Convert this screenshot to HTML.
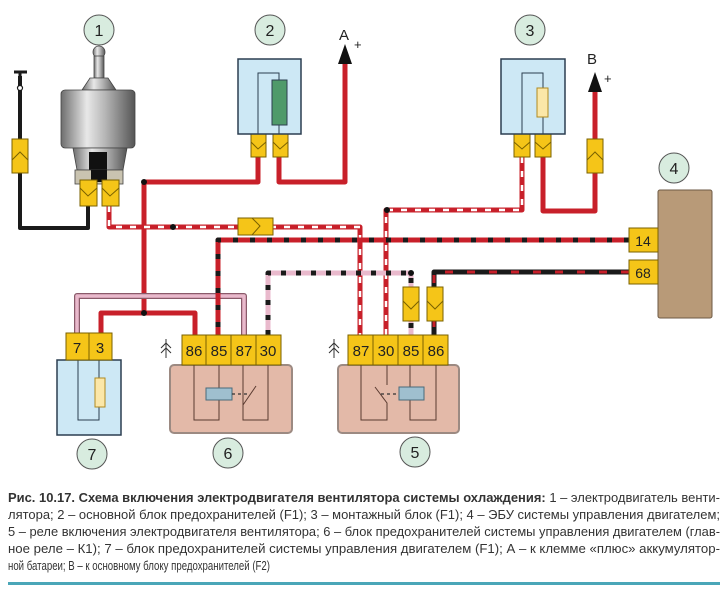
<!DOCTYPE html>
<html><head><meta charset="utf-8"><style>
html,body{margin:0;padding:0;background:#fff;width:726px;height:590px;overflow:hidden}
svg{display:block}
.t{font-family:"Liberation Sans",sans-serif;fill:#222}
.c{font-family:"Liberation Sans Narrow","Liberation Sans","DejaVu Sans",sans-serif;fill:#333;font-size:13px}
</style></head><body>
<svg width="726" height="590" viewBox="0 0 726 590" xmlns="http://www.w3.org/2000/svg">
<defs>
<linearGradient id="mg" x1="0" x2="1" y1="0" y2="0">
<stop offset="0" stop-color="#6e6e6e"/><stop offset="0.35" stop-color="#e8e8e8"/><stop offset="0.6" stop-color="#b5b5b5"/><stop offset="1" stop-color="#555"/>
</linearGradient>
</defs>
<g fill="none" stroke-linejoin="round">
<path d="M20 76 V228 H88 V206" stroke="#1a1a1a" stroke-width="4"/>
<path d="M258 157 V182 H144 V313" stroke="#c8202a" stroke-width="5"/>
<path d="M279 157 V182 H345 V62" stroke="#c8202a" stroke-width="5"/>
<path d="M101 333 V313 H195 V335" stroke="#c8202a" stroke-width="5"/>
<path d="M543 157 V211 H595 V90" stroke="#c8202a" stroke-width="5"/>
<path d="M77 333 V296 H244 V335" stroke="#8a5a6a" stroke-width="6"/>
<path d="M77 333 V296 H244 V335" stroke="#e9b9cc" stroke-width="3.5"/>
<path d="M109 206 V227 H360 V335" stroke="#c8202a" stroke-width="5"/>
<path d="M109 206 V227 H360 V335" stroke="#fff" stroke-width="2.5" stroke-dasharray="6 8"/>
<path d="M522 157 V210 H386 V335" stroke="#c8202a" stroke-width="5"/>
<path d="M522 157 V210 H386 V335" stroke="#fff" stroke-width="2.5" stroke-dasharray="6 8"/>
<path d="M629 240 H218 V335" stroke="#c8202a" stroke-width="5"/>
<path d="M629 240 H218 V335" stroke="#1a1a1a" stroke-width="5" stroke-dasharray="5 12"/>
<path d="M629 272 H434 V335" stroke="#1a1a1a" stroke-width="5"/>
<path d="M629 272 H434 V335" stroke="#c8202a" stroke-width="3" stroke-dasharray="8 14"/>
<path d="M268 335 V273 H411 V335" stroke="#e9b9cc" stroke-width="5"/>
<path d="M268 335 V273 H411 V335" stroke="#1a1a1a" stroke-width="5" stroke-dasharray="5 10"/>
</g>
<g fill="#111"><circle cx="144" cy="182" r="3"/><circle cx="173" cy="227" r="3"/><circle cx="144" cy="313" r="3"/><circle cx="387" cy="210" r="3"/><circle cx="411" cy="273" r="3"/></g>
<path d="M14 72 H27 M20 72 V88" stroke="#1a1a1a" stroke-width="3"/>
<circle cx="20" cy="88" r="2.5" fill="#fff" stroke="#1a1a1a" stroke-width="1.2"/>
<polygon points="338,64 352,64 345,44" fill="#111"/>
<polygon points="588,92 602,92 595,72" fill="#111"/>
<text class="t" x="339" y="40" font-size="15">A</text><text class="t" x="354" y="49" font-size="13">+</text>
<text class="t" x="587" y="64" font-size="15">B</text><text class="t" x="604" y="83" font-size="13">+</text>
<g fill="#f5c518" stroke="#7a6100" stroke-width="1">
<rect x="12" y="139" width="16" height="34"/><rect x="587" y="139" width="16" height="34"/>
<rect x="238" y="218" width="35" height="17"/>
<rect x="403" y="287" width="16" height="34"/><rect x="427" y="287" width="16" height="34"/>
</g>
<g fill="none" stroke="#7a6100" stroke-width="1">
<path d="M12 160 L20 152 L28 160"/><path d="M587 160 L595 152 L603 160"/>
<path d="M252 218 L260 226 L252 235"/>
<path d="M403 301 L411 309 L419 301"/><path d="M427 301 L435 309 L443 301"/>
</g>
<circle cx="99" cy="52" r="6" fill="url(#mg)" stroke="#444" stroke-width="0.8"/>
<rect x="94" y="56" width="10" height="22" fill="url(#mg)" stroke="#444" stroke-width="0.8"/>
<polygon points="90,78 108,78 116,90 82,90" fill="url(#mg)" stroke="#444" stroke-width="0.8"/>
<rect x="61" y="90" width="74" height="58" rx="4" fill="url(#mg)" stroke="#444" stroke-width="0.8"/>
<polygon points="73,148 127,148 123,170 77,170" fill="url(#mg)" stroke="#444" stroke-width="0.8"/>
<rect x="89" y="152" width="18" height="18" fill="#111"/>
<rect x="75" y="170" width="48" height="14" fill="#c9c3b0" stroke="#444" stroke-width="0.8"/>
<rect x="91" y="170" width="16" height="12" fill="#111"/>
<g fill="#f5c518" stroke="#7a6100" stroke-width="1">
<rect x="80" y="180" width="17" height="26"/><rect x="102" y="180" width="17" height="26"/>
<rect x="251" y="134" width="15" height="23"/><rect x="273" y="134" width="15" height="23"/>
<rect x="514" y="134" width="16" height="23"/><rect x="535" y="134" width="16" height="23"/>
</g>
<g fill="none" stroke="#7a6100" stroke-width="1">
<path d="M80 188 L88 196 L97 188"/><path d="M102 188 L110 196 L119 188"/>
<path d="M251 142 L258 149 L266 142"/><path d="M273 142 L280 149 L288 142"/>
<path d="M514 142 L522 149 L530 142"/><path d="M535 142 L543 149 L551 142"/>
</g>
<rect x="238" y="59" width="63" height="75" fill="#cde8f5" stroke="#2c3e50" stroke-width="1.5"/>
<path d="M258 134 V73 H279 V80" fill="none" stroke="#2c3e50" stroke-width="1"/>
<rect x="272" y="80" width="15" height="45" fill="#4f9a6a" stroke="#2c3e50" stroke-width="1"/>
<line x1="279" y1="125" x2="279" y2="134" stroke="#2c3e50"/>
<rect x="501" y="59" width="64" height="75" fill="#cde8f5" stroke="#2c3e50" stroke-width="1.5"/>
<path d="M522 134 V73 H543 V134" fill="none" stroke="#2c3e50" stroke-width="1"/>
<rect x="537" y="88" width="11" height="29" fill="#fbe7a8" stroke="#b08a20" stroke-width="1"/>
<rect x="658" y="190" width="54" height="128" rx="2" fill="#b89a78" stroke="#6e5a44" stroke-width="1"/>
<rect x="629" y="228" width="29" height="24" fill="#f5c518" stroke="#7a6100"/>
<rect x="629" y="260" width="29" height="24" fill="#f5c518" stroke="#7a6100"/>
<text class="t" x="643" y="246" font-size="14" text-anchor="middle">14</text>
<text class="t" x="643" y="278" font-size="14" text-anchor="middle">68</text>
<rect x="57" y="360" width="64" height="75" fill="#cde8f5" stroke="#2c3e50" stroke-width="1.5"/>
<path d="M78 360 V420 H99 V360" fill="none" stroke="#2c3e50" stroke-width="1"/>
<rect x="95" y="378" width="10" height="29" fill="#fbe7a8" stroke="#b08a20"/>
<rect x="66" y="333" width="23" height="27" fill="#f5c518" stroke="#7a6100"/>
<rect x="89" y="333" width="23" height="27" fill="#f5c518" stroke="#7a6100"/>
<text class="t" x="77" y="353" font-size="15" text-anchor="middle">7</text>
<text class="t" x="100" y="353" font-size="15" text-anchor="middle">3</text>
<rect x="170" y="365" width="122" height="68" rx="4" fill="#e3b9a8" stroke="#9c8a82" stroke-width="2"/>
<rect x="338" y="365" width="121" height="68" rx="4" fill="#e3b9a8" stroke="#9c8a82" stroke-width="2"/>
<g fill="#f5c518" stroke="#7a6100">
<rect x="182" y="335" width="24" height="30"/><rect x="206" y="335" width="25" height="30"/><rect x="231" y="335" width="25" height="30"/><rect x="256" y="335" width="25" height="30"/>
<rect x="348" y="335" width="25" height="30"/><rect x="373" y="335" width="25" height="30"/><rect x="398" y="335" width="25" height="30"/><rect x="423" y="335" width="25" height="30"/>
</g>
<g class="t" font-size="15" text-anchor="middle">
<text x="194" y="356">86</text><text x="219" y="356">85</text><text x="244" y="356">87</text><text x="268" y="356">30</text>
<text x="361" y="356">87</text><text x="386" y="356">30</text><text x="411" y="356">85</text><text x="436" y="356">86</text>
</g>
<g fill="none" stroke="#5a3a30" stroke-width="1">
<path d="M194 365 V420 H219 V365"/>
<path d="M243 365 V420 H268 V365"/>
<path d="M243 405 L256 386"/>
<path d="M361 365 V420 H387 V403 L375 387 M387 365 V385"/>
<path d="M410 365 V420 H436 V365"/>
</g>
<rect x="206" y="388" width="26" height="12" fill="#9fbfcf" stroke="#4a6a7a"/>
<rect x="399" y="387" width="25" height="13" fill="#9fbfcf" stroke="#4a6a7a"/>
<path d="M232 394 H250 M381 394 H399" stroke="#333" stroke-width="1.3" stroke-dasharray="3 3"/>
<g fill="none" stroke="#333" stroke-width="1">
<path d="M166 339 V358 M161 348 L166 343 L171 348 M161 353 L166 348 L171 353"/>
<path d="M334 339 V358 M329 348 L334 343 L339 348 M329 353 L334 348 L339 353"/>
</g>
<g fill="#d8ecdf" stroke="#555" stroke-width="1">
<circle cx="99" cy="30" r="15"/><circle cx="270" cy="30" r="15"/><circle cx="530" cy="30" r="15"/><circle cx="674" cy="168" r="15"/>
<circle cx="92" cy="454" r="15"/><circle cx="228" cy="453" r="15"/><circle cx="415" cy="452" r="15"/>
</g>
<g class="t" font-size="16" text-anchor="middle">
<text x="99" y="36">1</text><text x="270" y="36">2</text><text x="530" y="36">3</text><text x="674" y="174">4</text>
<text x="92" y="460">7</text><text x="228" y="459">6</text><text x="415" y="458">5</text>
</g>
<text class="c" x="8" y="502" textLength="712" lengthAdjust="spacingAndGlyphs"><tspan font-weight="bold">Рис. 10.17. Схема включения электродвигателя вентилятора системы охлаждения:</tspan> 1 – электродвигатель венти-</text>
<text class="c" x="8" y="519" textLength="712" lengthAdjust="spacingAndGlyphs">лятора; 2 – основной блок предохранителей (F1); 3 – монтажный блок (F1); 4 – ЭБУ системы управления двигателем;</text>
<text class="c" x="8" y="536" textLength="712" lengthAdjust="spacingAndGlyphs">5 – реле включения электродвигателя вентилятора; 6 – блок предохранителей системы управления двигателем (глав-</text>
<text class="c" x="8" y="553" textLength="712" lengthAdjust="spacingAndGlyphs">ное реле – К1); 7 – блок предохранителей системы управления двигателем (F1); А – к клемме «плюс» аккумулятор-</text>
<text class="c" x="8" y="570" textLength="262" lengthAdjust="spacingAndGlyphs">ной батареи; В – к основному блоку предохранителей (F2)</text>
<rect x="8" y="582" width="712" height="3" fill="#4aa6b8"/>
</svg>
</body></html>
